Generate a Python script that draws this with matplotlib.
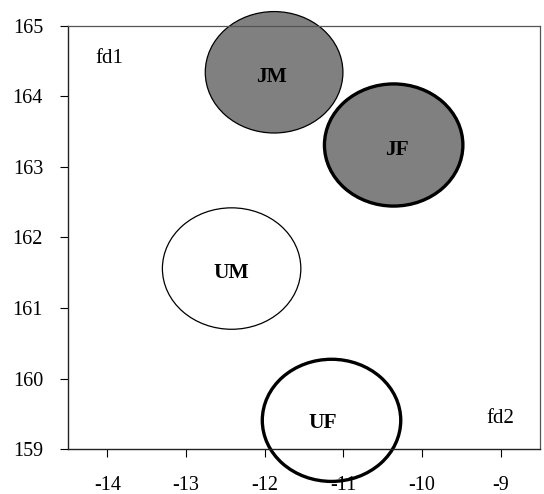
import matplotlib.pyplot as plt
from matplotlib.patches import Ellipse

# group ellipses (centre x, centre y, width, height)
groups = ['JM', 'JF', 'UM', 'UF']
cx = [-11.88, -10.36, -12.42, -11.15]
cy = [164.34, 163.31, 161.56, 159.41]
ew = [1.75, 1.76, 1.76, 1.76]
eh = [1.72, 1.73, 1.72, 1.73]
# label positions
lx = [-11.92, -10.32, -12.43, -11.26]
ly = [164.28, 163.24, 161.50, 159.37]

xticks = [-14, -13, -12, -11, -10, -9]
yticks = [159, 160, 161, 162, 163, 164, 165]

face = ['#808080', '#808080', 'white', 'none']
edge_w = [0.9, 2.4, 0.9, 2.4]

plt.rcParams['font.family'] = ['Liberation Serif', 'DejaVu Serif']

fig = plt.figure(figsize=(5.44, 4.94), dpi=100)
ax = fig.add_axes([0.125, 0.0905, 0.8676, 0.8575])
ax.set_xlim(-14.5, -8.5)
ax.set_ylim(159, 165)

for i in range(len(groups)):
    e = Ellipse((cx[i], cy[i]), ew[i], eh[i], facecolor=face[i],
                edgecolor='black', lw=edge_w[i], clip_on=False, zorder=3)
    ax.add_patch(e)
    ax.text(lx[i], ly[i], groups[i], ha='center', va='center',
            fontsize=15.5, fontweight='bold', zorder=5)

ax.text(-13.98, 164.53, 'fd1', ha='center', va='center', fontsize=15)
ax.text(-9.0, 159.44, 'fd2', ha='center', va='center', fontsize=15)

ax.set_xticks(xticks)
ax.set_yticks(yticks)
ax.set_xticklabels([str(t) for t in xticks])
ax.set_yticklabels([str(t) for t in yticks])
ax.tick_params(axis='x', direction='out', length=6, width=0.8, pad=13, labelsize=14.5)
ax.tick_params(axis='y', direction='out', length=6, width=0.8, pad=12, labelsize=14.5)

for s in ['left', 'bottom']:
    ax.spines[s].set_color('#222222')
    ax.spines[s].set_linewidth(1.0)
for s in ['top', 'right']:
    ax.spines[s].set_color('#555555')
    ax.spines[s].set_linewidth(0.9)
for s in ax.spines.values():
    s.set_zorder(4)

plt.savefig('out.png', dpi=100)
